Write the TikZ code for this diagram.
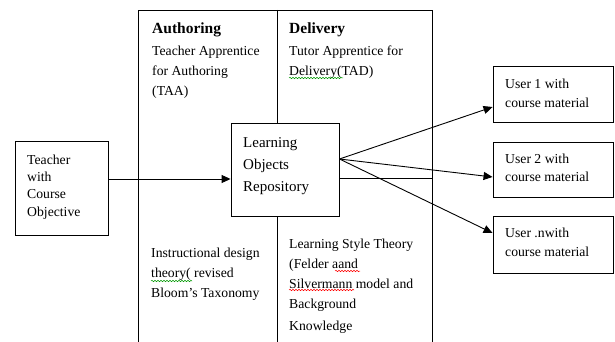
\documentclass[tikz,border=0pt]{standalone}
\usepackage{fontspec}
\setmainfont{Liberation Serif}
\usetikzlibrary{arrows.meta,calc,decorations.pathmorphing}
\begin{document}
\begin{tikzpicture}[x=1pt,y=-1pt,
  frame/.style={line width=0.9pt},
  box/.style={draw,line width=0.9pt,inner sep=0pt},
  txt/.style={anchor=north west,inner sep=0pt,align=left,font=\fontsize{13.7}{20}\selectfont},
  head/.style={anchor=base west,inner sep=0pt,font=\fontsize{15.5}{18}\selectfont\bfseries},
  arr/.style={line width=0.9pt,-{Triangle[length=9pt,width=8pt]}},
  wavy/.style={decorate,decoration={snake,amplitude=0.7pt,segment length=3pt},line width=0.5pt}
]
\useasboundingbox (0,0) rectangle (615,342);
% outer frame (open at the bottom)
\coordinate (fbl) at (138,342);
\coordinate (ftl) at (138,10);
\coordinate (ftr) at (432,10);
\coordinate (fbr) at (432,342);
\draw[frame] (fbl) -- (ftl) -- (ftr) -- (fbr);

% boxes
\node[box,minimum width=93pt,minimum height=94pt] (teacher) at (61.5,188) {};
\node[box,minimum width=108pt,minimum height=93pt] (lor) at (285,169.5) {};
\node[box,minimum width=120pt,minimum height=56pt] (u1) at (553,94) {};
\node[box,minimum width=120pt,minimum height=55pt] (u2) at (553,169.5) {};
\node[box,minimum width=120pt,minimum height=57pt] (un) at (553,244.5) {};

% divider
\coordinate (divtop) at (277.5,10);
\coordinate (divbot) at (277.5,342);
\draw[frame] (divtop) -- (divtop |- lor.north);
\draw[frame] (divbot |- lor.south) -- (divbot);
% horizontal line right of repository
\coordinate (hl) at ($(lor.east)+(0,8.5)$);
\draw[frame] (hl) -- (hl -| fbr);

% arrows
\coordinate (ta) at ($(teacher.east)+(0,-9)$);
\draw[arr] (ta) -- (ta -| lor.west);
\coordinate (hub) at ($(lor.east)+(0,-10.5)$);
\draw[arr] (hub) -- ($(u1.west)+(0,13)$);
\draw[arr] (hub) -- ($(u2.west)+(0,7.5)$);
\draw[arr] (hub) -- ($(un.west)+(0,-11.5)$);

% texts
\node[head] (hauth) at (152,34) {Authoring};
\node[head] (hdel) at (289,34) {Delivery};
\node[txt] (taa) at (152,41) {\strut Teacher Apprentice\\for Authoring\\(TAA)};
\node[txt] (tad) at (289,41) {\strut Tutor Apprentice for\\Delivery(TAD)};
\node[txt,font=\fontsize{15}{22}\selectfont] (lortxt) at (243,131.6) {\strut Learning\\Objects\\Repository};
\node[txt,font=\fontsize{13.7}{17.3}\selectfont] (ttxt) at (27,152) {\strut Teacher\\with\\Course\\Objective};
\node[txt] (idt) at (151,243) {\strut Instructional design\\theory( revised\\Bloom’s Taxonomy};
\node[txt] (lst) at (289,234) {\strut Learning Style Theory\\(Felder aand\\Silvermann model and\\Background\\[2pt]Knowledge};
\node[txt,font=\fontsize{13.7}{19}\selectfont] (u1t) at (505,75) {\strut User 1 with\\course material};
\node[txt,font=\fontsize{13.7}{18}\selectfont] (u2t) at (505,151) {\strut User 2 with\\course material};
\node[txt,font=\fontsize{13.7}{19}\selectfont] (unt) at (505,224) {\strut User .nwith\\course material};

% spell-check underlines
\draw[wavy,green!60!black] (289,78) -- (343,78);
\draw[wavy,green!60!black] (151,281) -- (192,281);
\draw[wavy,red] (335,271) -- (360,271);
\draw[wavy,red] (289,290) -- (354,290);
\end{tikzpicture}
\end{document}
